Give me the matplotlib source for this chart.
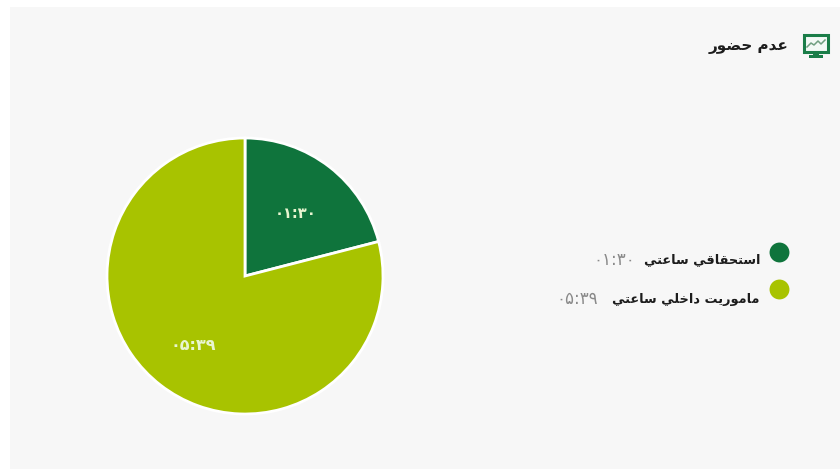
import matplotlib
matplotlib.use("Agg")
import matplotlib.pyplot as plt
from matplotlib.patches import Rectangle

title = "عدم حضور"
categories = ["استحقاقي ساعتي", "ماموريت داخلي ساعتي"]
minutes = [90, 339]
value_labels = ["۰۱:۳۰", "۰۵:۳۹"]
colors = ["#0f743c", "#a8c300"]

# base code point of the isolated form; joining letters have 4 forms, the rest 2
FORMS = {
    "ا": (0xFE8D, 2), "د": (0xFEA9, 2), "ر": (0xFEAD, 2), "و": (0xFEED, 2),
    "ت": (0xFE95, 4), "ح": (0xFEA1, 4), "خ": (0xFEA5, 4), "س": (0xFEB1, 4),
    "ض": (0xFEBD, 4), "ع": (0xFEC9, 4), "ق": (0xFED5, 4), "ل": (0xFEDD, 4),
    "م": (0xFEE1, 4), "ي": (0xFEF1, 4),
}


def shape(text):
    # matplotlib has no arabic shaping, so pick the glyph forms and reverse by hand
    out = []
    for i, c in enumerate(text):
        if c not in FORMS:
            out.append(c)
            continue
        base, n = FORMS[c]
        prev = text[i - 1] if i > 0 else " "
        nxt = text[i + 1] if i < len(text) - 1 else " "
        joins_prev = prev in FORMS and FORMS[prev][1] == 4
        joins_next = nxt in FORMS and n == 4
        if joins_prev and joins_next:
            off = 3
        elif joins_next:
            off = 2
        elif joins_prev:
            off = 1
        else:
            off = 0
        out.append(chr(base + off))
    return "".join(reversed(out))


W, H = 840, 469
fig = plt.figure(figsize=(W / 100, H / 100), dpi=100, facecolor="white")

# overlay in pixel coordinates for the panel, header and legend
bg = fig.add_axes([0, 0, 1, 1])
bg.set_xlim(0, W)
bg.set_ylim(H, 0)
bg.axis("off")
bg.add_patch(Rectangle((10, 7), 830, 462, color="#f7f7f7", lw=0))

# monitor icon
bg.add_patch(Rectangle((804, 35), 24, 17, fc="#f2f9f5", ec="#1a7d48", lw=2.2))
bg.add_patch(Rectangle((813, 52), 6, 3, color="#1a7d48", lw=0))
bg.add_patch(Rectangle((809, 55), 14, 3, color="#1a7d48", lw=0))
bg.plot([807, 811, 814, 818, 821, 825], [47, 43, 45, 41, 44, 40], color="#6f9f80", lw=1.1)

bg.text(789, 46, shape(title), family="DejaVu Sans", weight="bold", fontsize=11,
        color="#1c1c1c", ha="right", va="center")

# legend rows
rows_y = [252, 289]
text_y = [260, 299]
val_right = [635, 598]
for i in range(2):
    bg.scatter([779], [rows_y[i]], s=205, color=colors[i], lw=0)
    bg.text(760, text_y[i], shape(categories[i]), family="DejaVu Sans", weight="bold",
            fontsize=9.3, color="#1c1c1c", ha="right", va="center")
    bg.text(val_right[i], text_y[i], value_labels[i], family="DejaVu Sans", fontsize=12,
            color="#8a8a8a", ha="right", va="center")

pie_ax = fig.add_axes([107 / W, 1 - 414 / H, 276 / W, 276 / H])
pie_ax.pie(minutes, colors=colors, startangle=90, counterclock=False, radius=1,
           wedgeprops={"edgecolor": "white", "linewidth": 2})
pie_ax.set_xlim(-1, 1)
pie_ax.set_ylim(-1, 1)

# value labels on the slices
label_pos = [(296, 213), (193, 345)]
label_size = [10.5, 11.5]
for (x, y), lab, size in zip(label_pos, value_labels, label_size):
    fig.text(x / W, 1 - y / H, lab, family="DejaVu Sans", weight="bold", fontsize=size,
             color="#e8f5d0", ha="center", va="center")

fig.savefig("out.png", dpi=100)
